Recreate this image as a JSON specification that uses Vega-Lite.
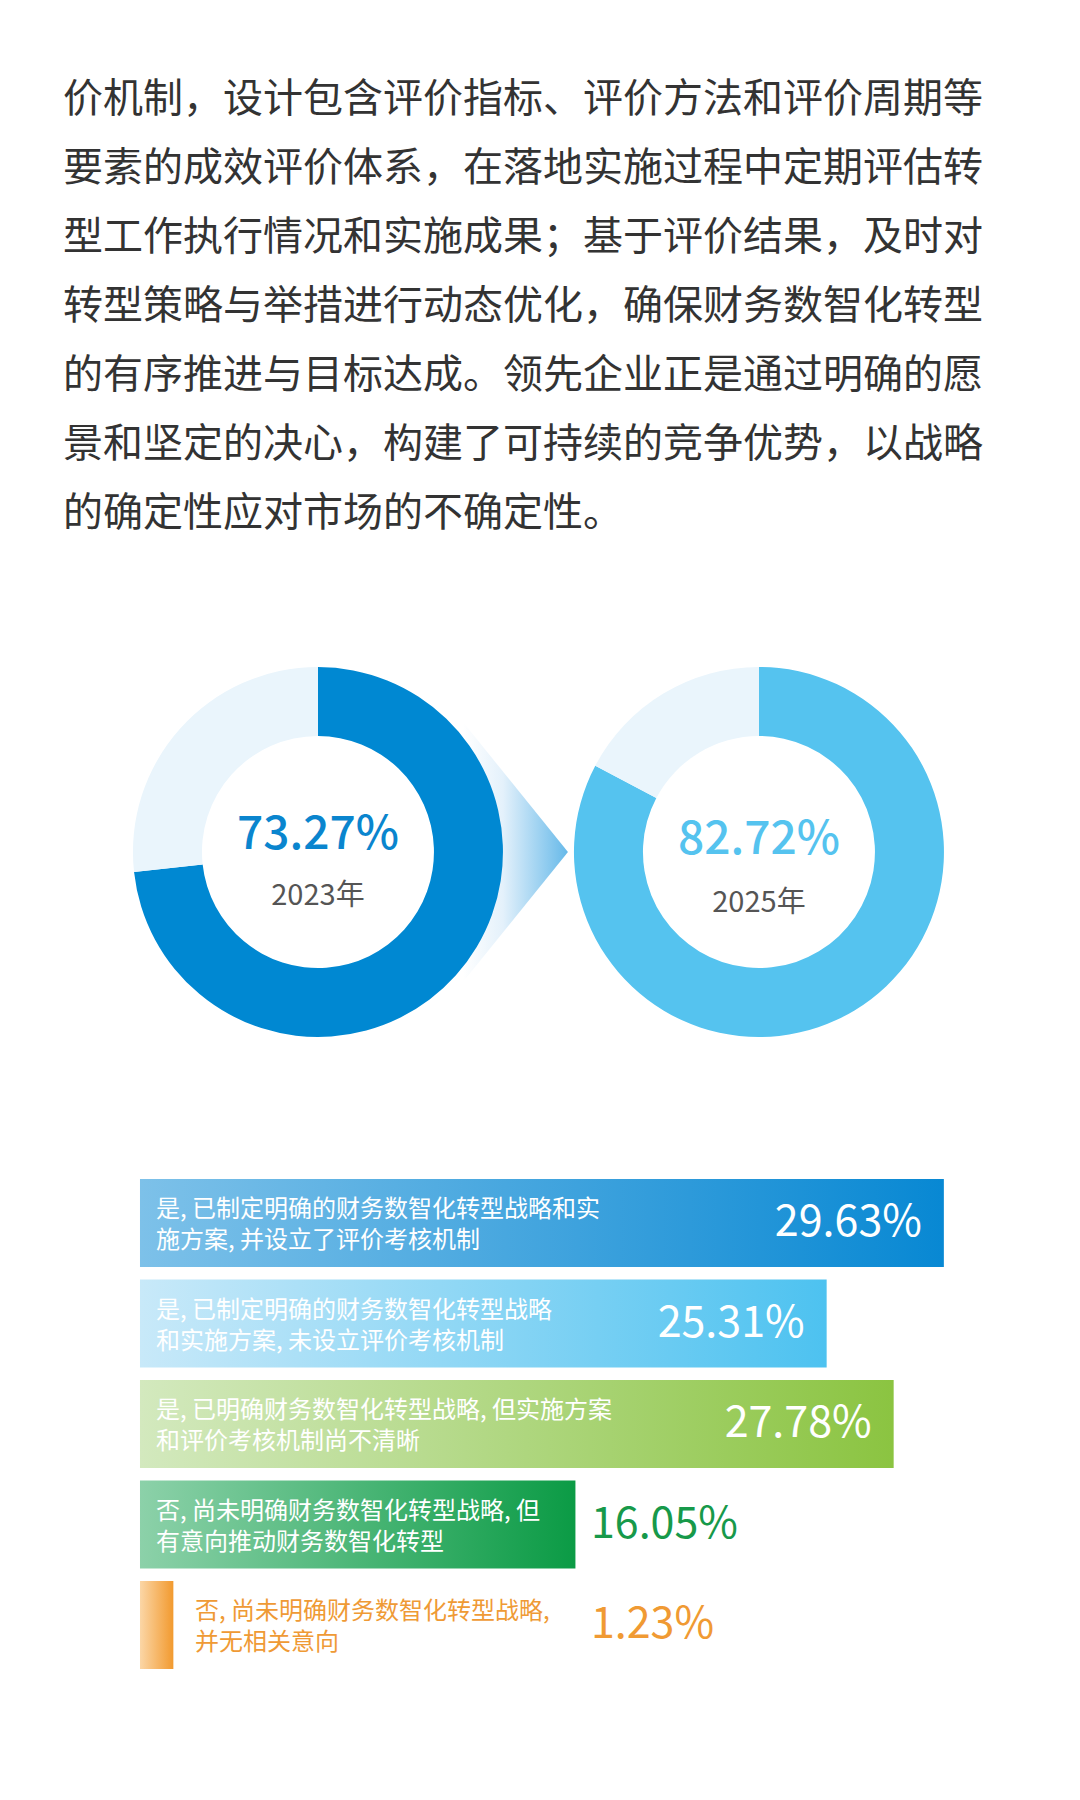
{
  "$schema": "https://vega.github.io/schema/vega-lite/v6.json",
  "padding": 0,
  "spacing": 0,
  "bounds": "flush",
  "background": "#ffffff",
  "config": {"view": {"stroke": null}, "font": "Noto Sans CJK SC", "concat": {"spacing": 0}},
  "datasets": {
    "paragraph": [
      {"line": 1, "text": "价机制，设计包含评价指标、评价方法和评价周期等"},
      {"line": 2, "text": "要素的成效评价体系，在落地实施过程中定期评估转"},
      {"line": 3, "text": "型工作执行情况和实施成果；基于评价结果，及时对"},
      {"line": 4, "text": "转型策略与举措进行动态优化，确保财务数智化转型"},
      {"line": 5, "text": "的有序推进与目标达成。领先企业正是通过明确的愿"},
      {"line": 6, "text": "景和坚定的决心，构建了可持续的竞争优势，以战略"},
      {"line": 7, "text": "的确定性应对市场的不确定性。"}
    ],
    "donut": [
      {"year": 2023, "yearLabel": "2023年", "part": "是", "start": 0, "end": 0.7327},
      {"year": 2023, "yearLabel": "2023年", "part": "否", "start": 0.7327, "end": 1},
      {"year": 2025, "yearLabel": "2025年", "part": "是", "start": 0, "end": 0.8272},
      {"year": 2025, "yearLabel": "2025年", "part": "否", "start": 0.8272, "end": 1}
    ],
    "bars": [
      {"rank": 1, "label": "是, 已制定明确的财务数智化转型战略和实\n施方案, 并设立了评价考核机制", "pct": 0.2963},
      {"rank": 2, "label": "是, 已制定明确的财务数智化转型战略\n和实施方案, 未设立评价考核机制", "pct": 0.2531},
      {"rank": 3, "label": "是, 已明确财务数智化转型战略, 但实施方案\n和评价考核机制尚不清晰", "pct": 0.2778},
      {"rank": 4, "label": "否, 尚未明确财务数智化转型战略, 但\n有意向推动财务数智化转型", "pct": 0.1605},
      {"rank": 5, "label": "否, 尚未明确财务数智化转型战略,\n并无相关意向", "pct": 0.0123}
    ]
  },
  "vconcat": [
    {
      "width": 1080,
      "height": 560,
      "data": {"name": "paragraph"},
      "mark": {"type": "text", "align": "left", "baseline": "middle", "fontSize": 40, "color": "#333333", "font": "Noto Sans CJK SC"},
      "encoding": {
        "x": {"datum": 0, "type": "quantitative", "scale": {"domain": [-63, 1017], "zero": false, "nice": false}, "axis": null},
        "y": {"field": "line", "type": "quantitative", "scale": {"domain": [-0.45, 7.666], "reverse": true, "zero": false, "nice": false}, "axis": null},
        "text": {"field": "text", "type": "nominal"}
      }
    },
    {
      "width": 1080,
      "height": 600,
      "data": {"name": "donut"},
      "encoding": {
        "x": {"field": "year", "type": "quantitative", "scale": {"domain": [2021.558, 2026.456], "zero": false, "nice": false}, "axis": null},
        "y": {"datum": 0, "type": "quantitative", "scale": {"domain": [-292, 308], "reverse": true, "zero": false, "nice": false}, "axis": null}
      },
      "layer": [
        {
          "transform": [{"filter": "datum.year === 2023 && datum.part === '是'"}],
          "mark": {
            "type": "point",
            "shape": "M 1.45 -1.3 L 2.5 0 L 1.45 1.3 Z",
            "size": 40000,
            "filled": true,
            "opacity": 1,
            "strokeWidth": 0,
            "color": {
              "gradient": "linear", "x1": 0, "y1": 0, "x2": 1, "y2": 0,
              "stops": [
                {"offset": 0, "color": "#ffffff"},
                {"offset": 0.38, "color": "#E4F1FB"},
                {"offset": 1, "color": "#66B9E9"}
              ]
            }
          }
        },
        {
          "transform": [{"filter": "datum.year === 2023 && datum.part === '是'"}],
          "mark": {"type": "arc", "radius": 185, "radius2": 116, "color": "#0088D2"},
          "encoding": {
            "theta": {"field": "start", "type": "quantitative", "scale": {"domain": [0, 1], "range": [0, 6.283185307179586]}},
            "theta2": {"field": "end"}
          }
        },
        {
          "transform": [{"filter": "datum.year === 2023 && datum.part === '否'"}],
          "mark": {"type": "arc", "radius": 185, "radius2": 116, "color": "#EAF5FC"},
          "encoding": {
            "theta": {"field": "start", "type": "quantitative"},
            "theta2": {"field": "end"}
          }
        },
        {
          "transform": [{"filter": "datum.year === 2025 && datum.part === '是'"}],
          "mark": {"type": "arc", "radius": 185, "radius2": 116, "color": "#55C3EF"},
          "encoding": {
            "theta": {"field": "start", "type": "quantitative"},
            "theta2": {"field": "end"}
          }
        },
        {
          "transform": [{"filter": "datum.year === 2025 && datum.part === '否'"}],
          "mark": {"type": "arc", "radius": 185, "radius2": 116, "color": "#EAF5FC"},
          "encoding": {
            "theta": {"field": "start", "type": "quantitative"},
            "theta2": {"field": "end"}
          }
        },
        {
          "transform": [{"filter": "datum.year === 2023 && datum.part === '是'"}],
          "mark": {"type": "text", "align": "center", "baseline": "middle", "dy": -17, "fontSize": 46, "fontWeight": 500, "color": "#0A85CE", "font": "Noto Sans CJK SC"},
          "encoding": {
            "text": {"field": "end", "type": "quantitative", "format": ".2%"}
          }
        },
        {
          "transform": [{"filter": "datum.year === 2025 && datum.part === '是'"}],
          "mark": {"type": "text", "align": "center", "baseline": "middle", "dy": -12, "fontSize": 46, "fontWeight": 500, "color": "#55C3EF", "font": "Noto Sans CJK SC"},
          "encoding": {
            "text": {"field": "end", "type": "quantitative", "format": ".2%"}
          }
        },
        {
          "transform": [{"filter": "datum.year === 2023 && datum.part === '是'"}],
          "mark": {"type": "text", "align": "center", "baseline": "middle", "dy": 44, "fontSize": 29, "color": "#555555", "font": "Noto Sans CJK SC"},
          "encoding": {
            "text": {"field": "yearLabel", "type": "nominal"}
          }
        },
        {
          "transform": [{"filter": "datum.year === 2025 && datum.part === '是'"}],
          "mark": {"type": "text", "align": "center", "baseline": "middle", "dy": 51, "fontSize": 29, "color": "#555555", "font": "Noto Sans CJK SC"},
          "encoding": {
            "text": {"field": "yearLabel", "type": "nominal"}
          }
        }
      ]
    },
    {
      "width": 1080,
      "height": 640,
      "data": {"name": "bars"},
      "encoding": {
        "y": {"field": "rank", "type": "ordinal", "scale": {"domain": [1, 2, 3, 4, 5], "paddingInner": 0.1244, "paddingOuter": 0.746, "align": 0.1267}, "axis": null}
      },
      "layer": [
        {
          "transform": [{"filter": "datum.rank === 1"}],
          "mark": {"type": "bar", "color": {"gradient": "linear", "x1": 0, "y1": 0, "x2": 1, "y2": 0, "stops": [{"offset": 0, "color": "#7DC1E9"}, {"offset": 1, "color": "#0888D3"}]}},
          "encoding": {
            "x": {"field": "pct", "type": "quantitative", "scale": {"domain": [-0.0516, 0.34648], "zero": false, "nice": false}, "axis": null},
            "x2": {"datum": 0}
          }
        },
        {
          "transform": [{"filter": "datum.rank === 2"}],
          "mark": {"type": "bar", "color": {"gradient": "linear", "x1": 0, "y1": 0, "x2": 1, "y2": 0, "stops": [{"offset": 0, "color": "#C8E9F9"}, {"offset": 1, "color": "#4DC2F0"}]}},
          "encoding": {
            "x": {"field": "pct", "type": "quantitative"},
            "x2": {"datum": 0}
          }
        },
        {
          "transform": [{"filter": "datum.rank === 3"}],
          "mark": {"type": "bar", "color": {"gradient": "linear", "x1": 0, "y1": 0, "x2": 1, "y2": 0, "stops": [{"offset": 0, "color": "#D3E9BE"}, {"offset": 1, "color": "#8BC441"}]}},
          "encoding": {
            "x": {"field": "pct", "type": "quantitative"},
            "x2": {"datum": 0}
          }
        },
        {
          "transform": [{"filter": "datum.rank === 4"}],
          "mark": {"type": "bar", "color": {"gradient": "linear", "x1": 0, "y1": 0, "x2": 1, "y2": 0, "stops": [{"offset": 0, "color": "#8CD1A9"}, {"offset": 1, "color": "#0B9B45"}]}},
          "encoding": {
            "x": {"field": "pct", "type": "quantitative"},
            "x2": {"datum": 0}
          }
        },
        {
          "transform": [{"filter": "datum.rank === 5"}],
          "mark": {"type": "bar", "color": {"gradient": "linear", "x1": 0, "y1": 0, "x2": 1, "y2": 0, "stops": [{"offset": 0, "color": "#FBD6A6"}, {"offset": 1, "color": "#F29A2F"}]}},
          "encoding": {
            "x": {"field": "pct", "type": "quantitative"},
            "x2": {"datum": 0}
          }
        },
        {
          "transform": [{"filter": "datum.rank <= 4"}],
          "mark": {"type": "text", "align": "left", "baseline": "middle", "dx": 16, "dy": -13, "fontSize": 24, "lineHeight": 31, "lineBreak": "\n", "color": "#ffffff", "font": "Noto Sans CJK SC"},
          "encoding": {
            "x": {"datum": 0, "type": "quantitative"},
            "text": {"field": "label", "type": "nominal"}
          }
        },
        {
          "transform": [{"filter": "datum.rank === 5"}],
          "mark": {"type": "text", "align": "left", "baseline": "middle", "dx": 55, "dy": -13, "fontSize": 24, "lineHeight": 31, "lineBreak": "\n", "color": "#EF9A35", "font": "Noto Sans CJK SC"},
          "encoding": {
            "x": {"datum": 0, "type": "quantitative"},
            "text": {"field": "label", "type": "nominal"}
          }
        },
        {
          "transform": [{"filter": "datum.rank <= 3"}],
          "mark": {"type": "text", "align": "right", "baseline": "middle", "dx": -22, "fontSize": 43, "color": "#ffffff", "font": "Noto Sans CJK SC"},
          "encoding": {
            "x": {"field": "pct", "type": "quantitative"},
            "text": {"field": "pct", "type": "quantitative", "format": ".2%"}
          }
        },
        {
          "transform": [{"filter": "datum.rank >= 4"}],
          "mark": {"type": "text", "align": "left", "baseline": "middle", "fontSize": 43, "font": "Noto Sans CJK SC"},
          "encoding": {
            "x": {"datum": 0.1662, "type": "quantitative"},
            "text": {"field": "pct", "type": "quantitative", "format": ".2%"},
            "color": {"condition": {"test": "datum.rank === 4", "value": "#17994A"}, "value": "#F09A33"}
          }
        }
      ]
    }
  ]
}
